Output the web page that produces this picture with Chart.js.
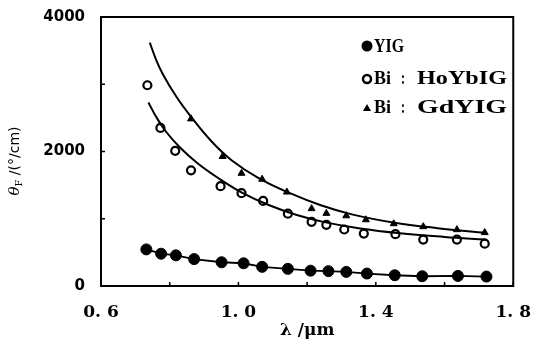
<!DOCTYPE html>
<html><head><meta charset="utf-8">
<script src="https://cdn.jsdelivr.net/npm/chart.js@4/dist/chart.umd.min.js"></script>
<style>html,body{margin:0;padding:0;background:#fff;}canvas{display:block;}</style>
</head><body>
<canvas id="c" width="539" height="344"></canvas>
<script>
// ---- data ----
const lambdaYIG   = [0.732,0.775,0.818,0.871,0.951,1.015,1.069,1.144,1.210,1.262,1.314,1.374,1.455,1.535,1.639,1.722];
const thetaYIG    = [544,480,456,400,353,338,285,255,228,221,210,185,160,145,150,140];

const lambdaHoYb  = [0.735,0.773,0.816,0.862,0.948,1.009,1.072,1.144,1.213,1.256,1.308,1.365,1.457,1.538,1.636,1.717];
const thetaHoYb   = [2985,2350,2010,1720,1485,1380,1265,1075,955,910,840,780,770,690,690,630];

const lambdaGd    = [0.862,0.954,1.009,1.069,1.141,1.213,1.256,1.314,1.371,1.452,1.538,1.636,1.717];
const thetaGd     = [2485,1926,1676,1588,1397,1150,1080,1044,985,926,882,838,794];

// fitted curves
const lambdaFitGd   = [0.742,0.76,0.78,0.82,0.86,0.92,0.98,1.06,1.15,1.24,1.33,1.45,1.58,1.72];
const thetaFitGd    = [3620,3370,3150,2810,2530,2160,1870,1600,1380,1200,1065,945,860,790];
const lambdaFitHoYb = [0.738,0.76,0.79,0.83,0.88,0.94,1.01,1.09,1.17,1.25,1.35,1.47,1.60,1.72];
const thetaFitHoYb  = [2730,2520,2290,2060,1830,1610,1390,1200,1055,950,860,785,730,690];

const seriesNames = ['YIG','Bi : HoYbIG','Bi : GdYIG'];

const xTickValues  = [0.6,0.8,1.0,1.2,1.4,1.6,1.8];
const xLabelValues = [0.6,1.0,1.4,1.8];
const xTickLabels  = ['0. 6','1. 0','1. 4','1. 8'];
const yTickValues  = [0,1000,2000,3000,4000];
const yLabelValues = [0,2000,4000];
const yTickLabels  = ['0','2000','4000'];

const xTitle = 'λ /μm';
const yTitleMain = 'θ', yTitleSub = 'F', yTitleRest = ' /(°/cm)';

const pts = (xs, ys) => xs.map((v, i) => ({x: v, y: ys[i]}));

const decor = {
  id: 'decor',
  afterDraw(chart) {
    const {ctx, chartArea: a, scales: {x, y}} = chart;
    ctx.save();
    ctx.strokeStyle = '#000';
    ctx.fillStyle = '#000';
    ctx.lineWidth = 2;
    ctx.strokeRect(a.left, a.top, a.right - a.left, a.bottom - a.top);
    ctx.lineWidth = 1.5;
    ctx.beginPath();
    xTickValues.forEach(v => { const p = x.getPixelForValue(v); ctx.moveTo(p, a.bottom); ctx.lineTo(p, a.bottom - 4); });
    yTickValues.forEach(v => { const p = y.getPixelForValue(v); ctx.moveTo(a.left, p); ctx.lineTo(a.left + 4, p); });
    ctx.stroke();

    // x title
    ctx.font = 'bold 17px "DejaVu Serif"';
    ctx.textAlign = 'center';
    ctx.textBaseline = 'middle';
    ctx.fillText(xTitle, (a.left + a.right) / 2, 331);

    // y title (rotated, with subscript)
    ctx.save();
    ctx.translate(15, 161);
    ctx.rotate(-Math.PI / 2);
    ctx.textAlign = 'left';
    ctx.textBaseline = 'middle';
    const fMain = 'italic 15px "DejaVu Serif"', fSub = '10px "DejaVu Serif"', fRest = '14px "DejaVu Sans"';
    ctx.font = fMain; const w1 = ctx.measureText(yTitleMain).width;
    ctx.font = fSub;  const w2 = ctx.measureText(yTitleSub).width;
    ctx.font = fRest; const w3 = ctx.measureText(yTitleRest).width;
    let sx = -(w1 + w2 + w3) / 2;
    ctx.font = fMain; ctx.fillText(yTitleMain, sx, 0); sx += w1;
    ctx.font = fSub;  ctx.fillText(yTitleSub, sx, 4); sx += w2;
    ctx.font = fRest; ctx.fillText(yTitleRest, sx, 0);
    ctx.restore();

    // legend
    const stretch = (t, tx, ty, w) => {
      ctx.save();
      ctx.translate(tx, ty);
      const m = ctx.measureText(t).width;
      ctx.scale(w / m, 1);
      ctx.fillText(t, 0, 0);
      ctx.restore();
    };
    ctx.font = 'bold 18px "Liberation Serif"';
    ctx.textAlign = 'left';
    ctx.textBaseline = 'middle';
    // YIG
    ctx.beginPath(); ctx.arc(367, 46, 5.5, 0, Math.PI * 2); ctx.fill();
    stretch('YIG', 374, 47, 30);
    // HoYbIG
    ctx.beginPath(); ctx.arc(367, 79, 4, 0, Math.PI * 2);
    ctx.fillStyle = '#fff'; ctx.fill(); ctx.lineWidth = 2.5; ctx.stroke(); ctx.fillStyle = '#000';
    const [bi, nm1] = seriesNames[1].split(' : ');
    stretch(bi, 374, 79, 17);
    stretch(':', 401, 79, 4);
    stretch(nm1, 417, 79, 90);
    // GdYIG
    ctx.beginPath(); ctx.moveTo(367, 104); ctx.lineTo(371, 111); ctx.lineTo(363, 111); ctx.closePath(); ctx.fill();
    const nm2 = seriesNames[2].split(' : ')[1];
    stretch(bi, 374, 108, 17);
    stretch(':', 401, 108, 4);
    stretch(nm2, 417, 108, 90);
    ctx.restore();
  }
};

new Chart(document.getElementById('c'), {
  type: 'scatter',
  data: {
    datasets: [
      {label: 'fitGd', data: pts(lambdaFitGd, thetaFitGd), showLine: true, tension: 0.4,
       borderColor: '#000', borderWidth: 2, pointRadius: 0},
      {label: 'fitHoYb', data: pts(lambdaFitHoYb, thetaFitHoYb), showLine: true, tension: 0.4,
       borderColor: '#000', borderWidth: 2, pointRadius: 0},
      {label: seriesNames[0], data: pts(lambdaYIG, thetaYIG), showLine: true, borderColor: '#000', borderWidth: 1.8,
       pointStyle: 'circle', pointRadius: 5.5, pointBackgroundColor: '#000', pointBorderColor: '#000', pointBorderWidth: 1},
      {label: seriesNames[1], data: pts(lambdaHoYb, thetaHoYb), showLine: false,
       pointStyle: 'circle', pointRadius: 4, pointBackgroundColor: '#fff', pointBorderColor: '#000', pointBorderWidth: 2.2},
      {label: seriesNames[2], data: pts(lambdaGd, thetaGd), showLine: false,
       pointStyle: 'triangle', pointRadius: 4, pointBackgroundColor: '#000', pointBorderColor: '#000', pointBorderWidth: 1}
    ]
  },
  options: {
    responsive: false,
    animation: false,
    layout: {padding: {left: 0, top: 14, right: 19, bottom: 0}},
    plugins: {legend: {display: false}, tooltip: {enabled: false}},
    scales: {
      x: {
        type: 'linear', min: 0.6, max: 1.8,
        grid: {display: false}, border: {display: false},
        afterBuildTicks: s => { s.ticks = xLabelValues.map(v => ({value: v})); },
        afterFit: s => { s.height = 58; },
        ticks: {
          autoSkip: false, maxRotation: 0, padding: 8, color: '#000',
          font: {family: 'DejaVu Serif', weight: 'bold', size: 17},
          callback: (v, i) => xTickLabels[i]
        }
      },
      y: {
        type: 'linear', min: 0, max: 4000,
        grid: {display: false}, border: {display: false},
        afterBuildTicks: s => { s.ticks = yLabelValues.map(v => ({value: v})); },
        afterFit: s => { s.width = 101; },
        ticks: {
          autoSkip: false, padding: 8, color: '#000',
          font: {family: 'DejaVu Sans', weight: 'bold', size: 15},
          callback: (v, i) => yTickLabels[i]
        }
      }
    }
  },
  plugins: [decor]
});
</script>
</body></html>
